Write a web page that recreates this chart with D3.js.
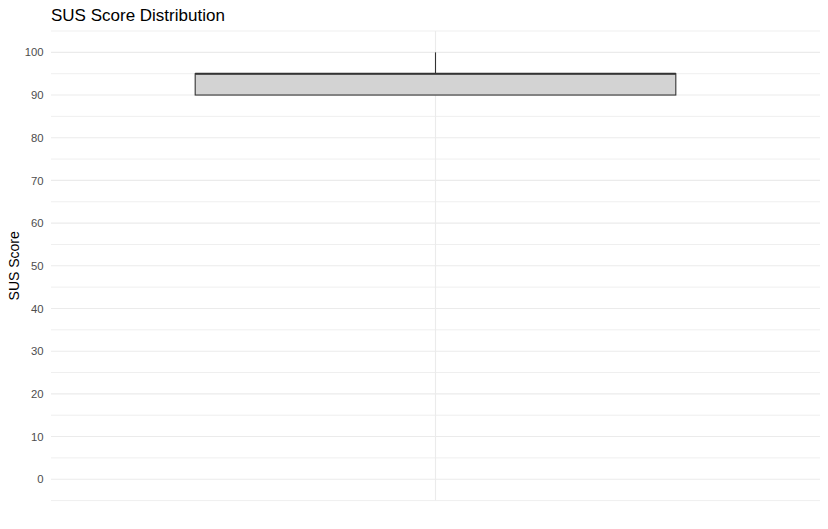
<!DOCTYPE html>
<html>
<head>
<meta charset="utf-8">
<script src="https://cdn.jsdelivr.net/npm/d3@7"></script>
<style>
  html, body { margin: 0; padding: 0; background: #ffffff; }
  svg { display: block; }
</style>
</head>
<body>
<script>
// ---- Data ----
const categories = ["SUS"];
const boxLower = [90];     // lower whisker end
const boxQ1 = [90];
const boxMedian = [95];
const boxQ3 = [95];
const boxUpper = [100];    // upper whisker end
const yTicks = [0, 10, 20, 30, 40, 50, 60, 70, 80, 90, 100];
const yMinor = [-5, 5, 15, 25, 35, 45, 55, 65, 75, 85, 95, 105];
const titleText = "SUS Score Distribution";
const yTitle = "SUS Score";

// ---- Layout ----
const W = 828, H = 529;
const panel = { left: 51, right: 820, top: 31, bottom: 500.6 };

const svg = d3.select("body").append("svg")
  .attr("width", W).attr("height", H);

const y = d3.scaleLinear().domain([-5, 105]).range([panel.bottom, panel.top]);
const x = d3.scaleBand().domain(categories)
  .range([panel.left, panel.right])
  .paddingInner(0.25).paddingOuter(0.225);

const grid = svg.append("g");
// minor horizontal gridlines
grid.selectAll("line.minor").data(yMinor).join("line")
  .attr("class", "minor")
  .attr("x1", panel.left).attr("x2", panel.right)
  .attr("y1", d => y(d)).attr("y2", d => y(d))
  .attr("stroke", "#EFEFEF").attr("stroke-width", 1);
// major horizontal gridlines
grid.selectAll("line.major").data(yTicks).join("line")
  .attr("class", "major")
  .attr("x1", panel.left).attr("x2", panel.right)
  .attr("y1", d => y(d)).attr("y2", d => y(d))
  .attr("stroke", "#EBEBEB").attr("stroke-width", 1.1);
// vertical gridline per category
grid.selectAll("line.vx").data(categories).join("line")
  .attr("class", "vx")
  .attr("x1", d => x(d) + x.bandwidth() / 2).attr("x2", d => x(d) + x.bandwidth() / 2)
  .attr("y1", panel.top).attr("y2", panel.bottom)
  .attr("stroke", "#EBEBEB").attr("stroke-width", 1.1);

// Y axis (labels only)
const yAxis = d3.axisLeft(y).tickValues(yTicks).tickSize(0).tickPadding(7.5);
const ag = svg.append("g").attr("transform", `translate(${panel.left},0)`).call(yAxis);
ag.select(".domain").remove();
ag.selectAll("text")
  .attr("fill", "#4D4D4D")
  .style("font-family", "'Liberation Sans', Arial, sans-serif")
  .style("font-size", "11.3px");

// Box plot
const boxes = categories.map((c, i) => ({
  c, lower: boxLower[i], q1: boxQ1[i], med: boxMedian[i], q3: boxQ3[i], upper: boxUpper[i]
}));
const bg = svg.append("g");
boxes.forEach(b => {
  const cx = x(b.c) + x.bandwidth() / 2;
  // whiskers
  bg.append("line")
    .attr("x1", cx).attr("x2", cx)
    .attr("y1", y(b.q3)).attr("y2", y(b.upper))
    .attr("stroke", "#333333").attr("stroke-width", 1.1);
  bg.append("line")
    .attr("x1", cx).attr("x2", cx)
    .attr("y1", y(b.q1)).attr("y2", y(b.lower))
    .attr("stroke", "#333333").attr("stroke-width", 1.1);
  // box
  bg.append("rect")
    .attr("x", x(b.c)).attr("width", x.bandwidth())
    .attr("y", y(b.q3)).attr("height", y(b.q1) - y(b.q3))
    .attr("fill", "#D3D3D3").attr("stroke", "#333333").attr("stroke-width", 1.1);
  // median
  bg.append("line")
    .attr("x1", x(b.c)).attr("x2", x(b.c) + x.bandwidth())
    .attr("y1", y(b.med)).attr("y2", y(b.med))
    .attr("stroke", "#333333").attr("stroke-width", 2);
});

// Title
svg.append("text")
  .attr("x", 51).attr("y", 21)
  .attr("fill", "#000000")
  .style("font-family", "'Liberation Sans', Arial, sans-serif")
  .style("font-size", "17px")
  .text(titleText);

// Y axis title
svg.append("text")
  .attr("transform", `translate(19,${(panel.top + panel.bottom) / 2}) rotate(-90)`)
  .attr("text-anchor", "middle")
  .attr("fill", "#000000")
  .style("font-family", "'Liberation Sans', Arial, sans-serif")
  .style("font-size", "14px")
  .text(yTitle);
</script>
</body>
</html>
